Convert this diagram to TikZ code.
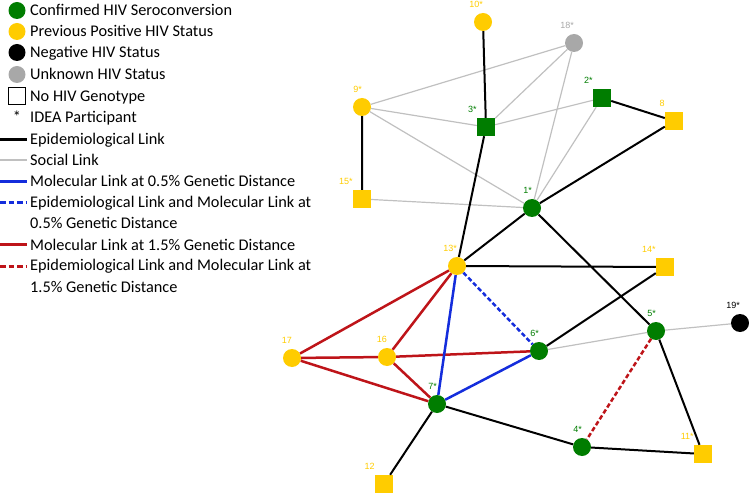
\documentclass[tikz,border=0pt]{standalone}
\usepackage{fontspec}
\setmainfont{Carlito}
\newfontfamily\lblfont{Liberation Sans}
\usepackage{xcolor}
\usepackage{tikz}
\usetikzlibrary{positioning}

\definecolor{hivgreen}{RGB}{0,125,0}
\definecolor{hivyellow}{RGB}{255,204,0}
\definecolor{hivgray}{RGB}{168,168,168}
\definecolor{sociallink}{RGB}{192,192,192}
\definecolor{molblue}{RGB}{20,45,220}
\definecolor{molred}{RGB}{190,20,25}

\begin{document}
\begin{tikzpicture}[x=1pt, y=-1pt,
    pnode/.style={circle, inner sep=0pt, minimum size=18pt},
    seroc/.style={pnode, fill=hivgreen},
    prevpos/.style={pnode, fill=hivyellow},
    neghiv/.style={pnode, fill=black},
    unkhiv/.style={pnode, fill=hivgray},
    nogeno/.style={rectangle},
    lbl/.style={font=\lblfont\fontsize{9}{11}\selectfont, inner sep=0pt, anchor=south east},
    legtext/.style={font=\fontsize{16.3}{21.3}\selectfont, inner sep=0pt, anchor=base west, align=left},
    epi/.style={line width=2pt},
    social/.style={sociallink, line width=1.2pt},
    mol05/.style={molblue, line width=2.5pt},
    epimol05/.style={mol05, dash pattern=on 4.5pt off 2.5pt},
    mol15/.style={molred, line width=2.5pt},
    epimol15/.style={mol15, dash pattern=on 4.5pt off 2.5pt},
]
\useasboundingbox (0,0) rectangle (749,494);

% Legend
\node[seroc, minimum size=17pt] (kseroc) at (17,10.5) {};
\node[legtext] (tseroc) at (30,16) {Confirmed HIV Seroconversion};
\node[prevpos, minimum size=17pt] (kprevpos) at (17,31.5) {};
\node[legtext] (tprevpos) at (30,37) {Previous Positive HIV Status};
\node[neghiv, minimum size=17pt] (kneg) at (17,52.5) {};
\node[legtext] (tneg) at (30,58) {Negative HIV Status};
\node[unkhiv, minimum size=17pt] (kunk) at (17,74.5) {};
\node[legtext] (tunk) at (30,80) {Unknown HIV Status};
\node[draw, line width=1pt, minimum size=17pt, inner sep=0pt] (knogeno) at (17,96.5) {};
\node[legtext] (tnogeno) at (30,102) {No HIV Genotype};
\node[legtext, anchor=base] (kidea) at (17,123) {*};
\node[legtext] (tidea) at (30,123) {IDEA Participant};

\coordinate (kepi) at (0,139.5);
\draw[epi, line width=3pt] (kepi) -- ++(27,0);
\node[legtext] (tepi) at (30,144.5) {Epidemiological Link};
\coordinate (ksocial) at (0,160);
\draw[social, line width=2pt] (ksocial) -- ++(27,0);
\node[legtext] (tsocial) at (30,166) {Social Link};
\coordinate (kmol05) at (0,181.5);
\draw[mol05, line width=3pt] (kmol05) -- ++(27,0);
\node[legtext] (tmol05) at (30,187) {Molecular Link at 0.5\% Genetic Distance};
\coordinate (kepimol05) at (0,202.5);
\draw[epimol05, line width=3pt, dash pattern=on 5.5pt off 3pt] (kepimol05) -- ++(27,0);
\node[legtext] (tepimol05) at (30,229) {Epidemiological Link and Molecular Link at\\0.5\% Genetic Distance};
\coordinate (kmol15) at (0,245);
\draw[mol15, line width=3pt] (kmol15) -- ++(27,0);
\node[legtext] (tmol15) at (30,250.5) {Molecular Link at 1.5\% Genetic Distance};
\coordinate (kepimol15) at (0,266);
\draw[epimol15, line width=3pt, dash pattern=on 5.5pt off 3pt] (kepimol15) -- ++(27,0);
\node[legtext] (tepimol15) at (30,292) {Epidemiological Link and Molecular Link at\\1.5\% Genetic Distance};

% Participants
\node[seroc] (n1) at (532,208) {};
\node[seroc, nogeno] (n2) at (602,98) {};
\node[seroc, nogeno] (n3) at (486,127) {};
\node[seroc] (n4) at (582,447) {};
\node[seroc] (n5) at (656,331) {};
\node[seroc] (n6) at (539,351) {};
\node[seroc] (n7) at (437,404) {};
\node[prevpos, nogeno] (n8) at (674,121) {};
\node[prevpos] (n9) at (362,107) {};
\node[prevpos] (n10) at (483,22) {};
\node[prevpos, nogeno] (n11) at (703,454) {};
\node[prevpos, nogeno] (n12) at (384,484) {};
\node[prevpos] (n13) at (457,266) {};
\node[prevpos, nogeno] (n14) at (665,267) {};
\node[prevpos, nogeno] (n15) at (362,199) {};
\node[prevpos] (n16) at (387,357) {};
\node[prevpos] (n17) at (292,358) {};
\node[unkhiv] (n18) at (574,43) {};
\node[neghiv] (n19) at (740,323) {};

% Participant labels
\node[lbl, text=hivgreen] (l1) at ([yshift=5.5pt]n1.north) {1*};
\node[lbl, text=hivgreen] (l2) at ([yshift=5.5pt]n2.north west) {2*};
\node[lbl, text=hivgreen] (l3) at ([yshift=5.5pt]n3.north west) {3*};
\node[lbl, text=hivgreen] (l4) at ([yshift=5.5pt]n4.north) {4*};
\node[lbl, text=hivgreen] (l5) at ([yshift=5.5pt]n5.north) {5*};
\node[lbl, text=hivgreen] (l6) at ([yshift=5.5pt]n6.north) {6*};
\node[lbl, text=hivgreen] (l7) at ([yshift=5.5pt]n7.north) {7*};
\node[lbl, text=hivyellow] (l8) at ([yshift=5.5pt]n8.north west) {8};
\node[lbl, text=hivyellow] (l9) at ([yshift=5.5pt]n9.north) {9*};
\node[lbl, text=hivyellow] (l10) at ([yshift=5.5pt]n10.north) {10*};
\node[lbl, text=hivyellow] (l11) at ([yshift=5.5pt]n11.north west) {11*};
\node[lbl, text=hivyellow] (l12) at ([yshift=5.5pt]n12.north west) {12};
\node[lbl, text=hivyellow] (l13) at ([yshift=5.5pt]n13.north) {13*};
\node[lbl, text=hivyellow] (l14) at ([yshift=5.5pt]n14.north west) {14*};
\node[lbl, text=hivyellow] (l15) at ([yshift=5.5pt]n15.north west) {15*};
\node[lbl, text=hivyellow] (l16) at ([yshift=5.5pt]n16.north) {16};
\node[lbl, text=hivyellow] (l17) at ([yshift=5.5pt]n17.north) {17};
\node[lbl, text=hivgray] (l18) at ([yshift=5.5pt]n18.north) {18*};
\node[lbl, text=black] (l19) at ([yshift=5.5pt]n19.north) {19*};

% Social links
\draw[social] (n9) -- (n18) (n9) -- (n3) (n9) -- (n1) (n3) -- (n18) (n3) -- (n2)
    (n18) -- (n1) (n2) -- (n1) (n15) -- (n1) (n6) -- (n5) (n5) -- (n19);

% Epidemiological links
\draw[epi] (n10) -- (n3) (n9) -- (n15) (n2) -- (n8) (n8) -- (n1) (n3) -- (n13)
    (n1) -- (n13) (n1) -- (n5) (n13) -- (n14) (n14) -- (n6) (n5) -- (n11)
    (n4) -- (n11) (n7) -- (n4) (n7) -- (n12);

% Molecular links
\draw[mol15] (n13) -- (n17) (n13) -- (n16) (n17) -- (n16) (n16) -- (n6) (n17) -- (n7) (n16) -- (n7);
\draw[mol05] (n13) -- (n7) (n7) -- (n6);
\draw[epimol05] (n13) -- (n6);
\draw[epimol15] (n5) -- (n4);

\end{tikzpicture}
\end{document}
